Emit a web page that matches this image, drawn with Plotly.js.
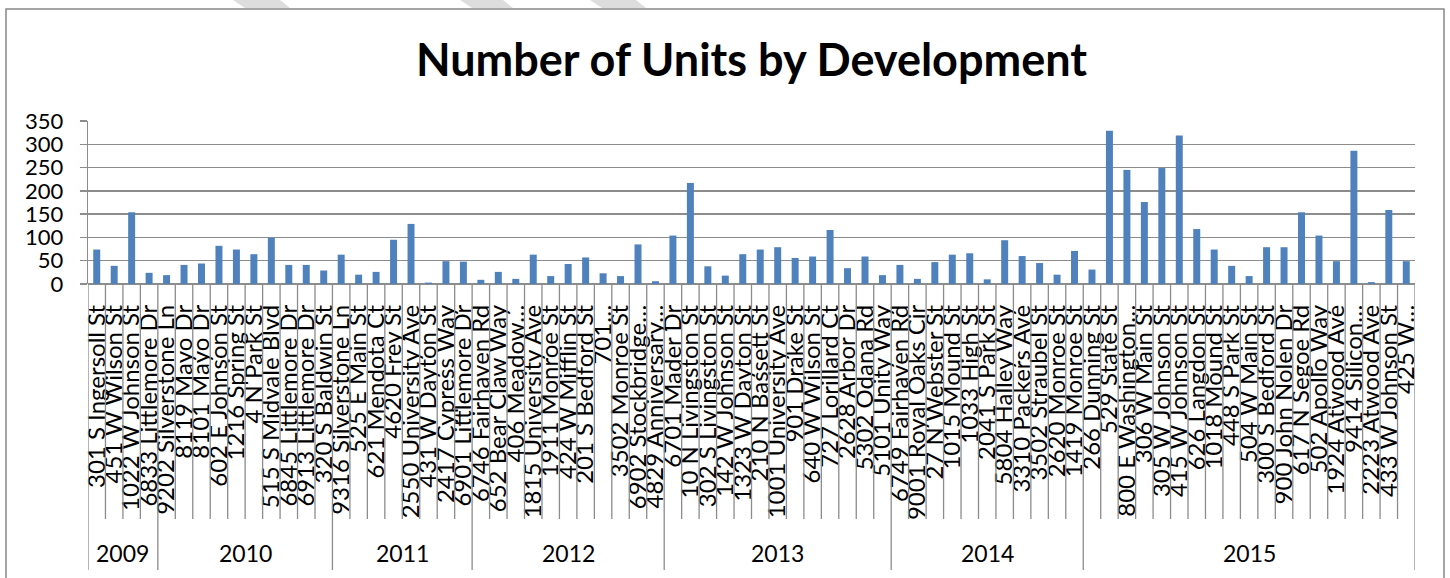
<!DOCTYPE html>
<html>
<head>
<meta charset="utf-8">
<script src="https://cdn.plot.ly/plotly-3.0.1.min.js"></script>
<style>html,body{margin:0;padding:0;background:#fff;}#chart{width:1450px;height:578px;}</style>
</head>
<body>
<div id="chart"></div>
<script>
const yearLabels = ["2009","2010","2011","2012","2013","2014","2015"];
const yearCounts = [4, 10, 8, 11, 13, 11, 19];

const developments = [
  "301 S Ingersoll St","451 W Wilson St","1022 W Johnson St","6833 Littlemore Dr",
  "9202 Silverstone Ln","8119 Mayo Dr","8101 Mayo Dr","602 E Johnson St","1216 Spring St","4 N Park St","515 S Midvale Blvd","6845 Littlemore Dr","6913 Littlemore Dr","320 S Baldwin St",
  "9316 Silverstone Ln","525 E Main St","621 Mendota Ct","4620 Frey St","2550 University Ave","431 W Dayton St","2417 Cypress Way","6901 Littlemore Dr",
  "6746 Fairhaven Rd","652 Bear Claw Way","406 Meadow…","1815 University Ave","1911 Monroe St","424 W Mifflin St","201 S Bedford St","701…","3502 Monroe St","6902 Stockbridge…","4829 Anniversary…",
  "6701 Mader Dr","10 N Livingston St","302 S Livingston St","142 W Johnson St","1323 W Dayton St","210 N Bassett St","1001 University Ave","901 Drake St","640 W Wilson St","727 Lorillard Ct","2628 Arbor Dr","5302 Odana Rd","5101 Unity Way",
  "6749 Fairhaven Rd","9001 Royal Oaks Cir","27 N Webster St","1015 Mound St","1033 High St","2041 S Park St","5804 Halley Way","3310 Packers Ave","3502 Straubel St","2620 Monroe St","1419 Monroe St",
  "266 Dunning St","529 State St","800 E Washington…","306 W Main St","305 W Johnson St","415 W Johnson St","626 Langdon St","1018 Mound St","448 S Park St","504 W Main St","300 S Bedford St","900 John Nolen Dr","617 N Segoe Rd","502 Apollo Way","1924 Atwood Ave","9414 Silicon…","2223 Atwood Ave","433 W Johnson St","425 W…"
];

const units = [
  74, 39, 154, 24,
  19, 41, 44, 82, 74, 64, 99, 41, 41, 29,
  63, 20, 26, 95, 129, 3, 49, 48,
  9, 26, 11, 63, 17, 43, 57, 23, 17, 85, 6,
  104, 217, 38, 18, 64, 74, 79, 56, 59, 116, 34, 59, 19,
  41, 11, 47, 63, 66, 10, 94, 60, 45, 20, 71,
  31, 329, 245, 176, 249, 319, 118, 74, 39, 17, 79, 79, 154, 104, 49, 286, 4, 159, 49
];

const FONT = "Lato, 'Open Sans', sans-serif";
const GRID = "#8c8c8c";
const plotH = 578 - 121 - 294;
const paperY = px => (284 - px) / plotH;
const plotW = 1450 - 88 - 35;
const paperX = px => (px - 88) / plotW;

const shapes = [];
const n = developments.length;
const yearStarts = [];
let acc = 0;
yearCounts.forEach(c => { yearStarts.push(acc); acc += c; });
for (let i = 0; i <= n; i++) {
  const isYear = yearStarts.includes(i) || i === n;
  shapes.push({type:"line", xref:"x", yref:"paper", x0:i-0.5, x1:i-0.5, y0:0, y1: isYear ? paperY(570) : paperY(519),
    line:{color:GRID, width:1.3}, layer:"above"});
}
shapes.push({type:"rect", xref:"paper", yref:"paper", x0:paperX(6), x1:paperX(1444), y0:paperY(600), y1:paperY(9),
  line:{color:"#888888", width:1.5}, fillcolor:"rgba(0,0,0,0)"});
[[233,280],[460,503],[590,636]].forEach(s => {
  const [a,b] = s;
  shapes.push({type:"path", xref:"paper", yref:"paper",
    path:`M ${paperX(a)} ${paperY(0)} L ${paperX(b)} ${paperY(0)} L ${paperX(b+10)} ${paperY(8)} L ${paperX(a+12)} ${paperY(8)} Z`,
    fillcolor:"#dddddd", line:{width:0}});
});

const annotations = yearLabels.map((y, k) => ({
  text: y, xref:"x", yref:"paper", x: yearStarts[k] + (yearCounts[k]-1)/2, y: paperY(553),
  showarrow:false, font:{family:FONT, size:23, color:"#000"}, xanchor:"center", yanchor:"middle"
}));

const trace = {
  type:"bar", x: developments, y: units,
  marker:{color:"#4f81bd"}, hoverinfo:"x+y"
};

const layout = {
  width:1450, height:578,
  margin:{l:88, r:35, t:121, b:294},
  paper_bgcolor:"#fff", plot_bgcolor:"#fff",
  title:{text:"<b>Number of Units by Development</b>", x:0.5, xref:"paper", y:1 - 60/578, yanchor:"middle",
    font:{family:FONT, size:45, color:"#000"}},
  bargap:0.6,
  showlegend:false,
  xaxis:{type:"category", range:[-0.5, n-0.5], tickangle:-90, ticks:"", showgrid:false,
    tickmode:"array", tickvals:developments, ticktext:developments,
    tickfont:{family:FONT, size:24, color:"#000"}, ticklabelstandoff:15, showline:false, zeroline:false, automargin:false},
  yaxis:{range:[0,350], dtick:50, showgrid:true, gridcolor:GRID, gridwidth:1.3, zeroline:true, zerolinecolor:GRID, zerolinewidth:1.3,
    showline:true, linecolor:GRID, linewidth:1.3, ticks:"outside", ticklen:7, tickcolor:GRID, tickwidth:1.3,
    tickfont:{family:FONT, size:22, color:"#000"}, ticklabelstandoff:12, automargin:false},
  shapes: shapes,
  annotations: annotations
};

Plotly.newPlot("chart", [trace], layout, {displayModeBar:false, staticPlot:true});
</script>
</body>
</html>
